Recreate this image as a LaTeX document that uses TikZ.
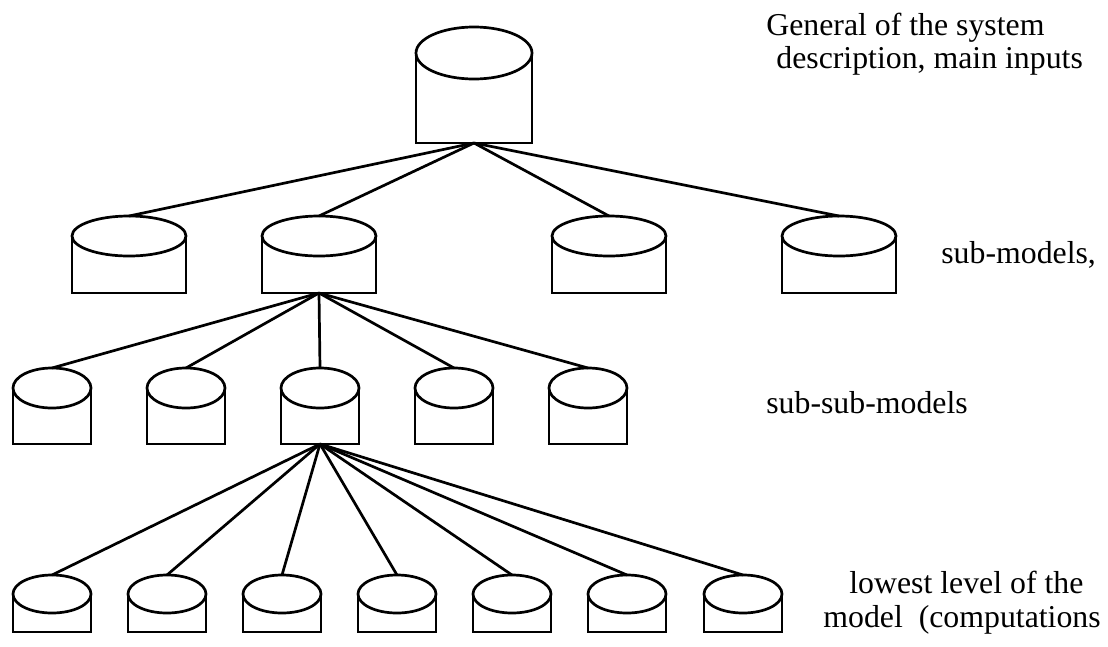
\documentclass[tikz,border=0pt]{standalone}
\usepackage{fontspec}
\setmainfont{Liberation Serif}
\tikzset{
  % open-top drum: ellipse lid, straight sides, flat base
  pics/can/.style n args={3}{code={
    \draw (-#1,0) -- (-#1,#3) -- (#1,#3) -- (#1,0);
    \draw (0,0) ellipse [x radius=#1, y radius=#2];
    \coordinate (-top) at (0,-#2);
    \coordinate (-bot) at (0,#3);
  }},
  tag/.style = {anchor=base west, inner sep=0pt, font=\fontsize{31.8}{33}\selectfont}
}

\begin{document}
\begin{tikzpicture}[x=1pt,y=-1pt,line width=2.7pt]
  \useasboundingbox (0,0) rectangle (1108,646);
  % top model
  \pic (root) at (474,53) {can={58}{26}{90}};
  % sub-models
  \foreach \x [count=\i] in {129,319,609,839} {
    \pic (sub\i) at (\x,236) {can={57}{20}{57}};
  }
  % sub-sub-models
  \foreach \x [count=\i] in {52,186,320,454,588} {
    \pic (ssub\i) at (\x,388) {can={39}{20}{56}};
  }
  % lowest level
  \foreach \x [count=\i] in {52,167,282,397,512,627,743} {
    \pic (low\i) at (\x,594) {can={39}{19}{38}};
  }
  % branches
  \foreach \i in {1,...,4} {
    \draw (root-bot) -- (sub\i-top);
  }
  \foreach \i in {1,...,5} {
    \draw (sub2-bot) -- (ssub\i-top);
  }
  \foreach \i in {1,...,7} {
    \draw (ssub3-bot) -- (low\i-top);
  }
  % level captions
  \node[tag] (cap1a) at (765,35) {General of the system};
  \node[tag] (cap1b) at (775,68) {description, main inputs};
  \node[tag] (cap2) at (940,263) {sub-models,};
  \node[tag] (cap3) at (765,413) {sub-sub-models};
  \node[tag] (cap4a) at (848,593) {lowest level of the};
  \node[tag] (cap4b) at (822,627) {model\ \ (computations};
\end{tikzpicture}
\end{document}
